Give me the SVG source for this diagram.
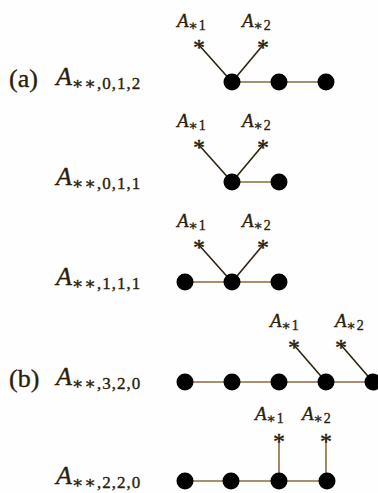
<svg xmlns="http://www.w3.org/2000/svg" width="378" height="493" viewBox="0 0 378 493">
<style>
text{font-family:"Liberation Serif","DejaVu Serif",serif;fill:#2b1d0a;stroke:#2b1d0a;stroke-width:0.35}
.big{font-size:26px}
.it{font-style:italic}
.sub{font-size:17px;letter-spacing:1px}
.lab{font-size:19px}
.lsub{font-size:14px;letter-spacing:0.5px}
.ast{font-size:24px;text-anchor:middle}
.dot{fill:#000}
.h{stroke:#8b6b3d;stroke-width:1.6;fill:none}
.d{stroke:#2e2210;stroke-width:1.6;fill:none}
</style>
<rect width="378" height="493" fill="#fefefe"/>
<g id="connectors">
<line class="h" x1="232" y1="82" x2="326" y2="82"/>
<line class="d" x1="199" y1="45" x2="232" y2="82"/>
<line class="d" x1="263" y1="45" x2="232" y2="82"/>
<line class="h" x1="232" y1="182" x2="279" y2="182"/>
<line class="d" x1="199" y1="145" x2="232" y2="182"/>
<line class="d" x1="263" y1="145" x2="232" y2="182"/>
<line class="h" x1="185" y1="282" x2="279" y2="282"/>
<line class="d" x1="199" y1="245" x2="232" y2="282"/>
<line class="d" x1="263" y1="245" x2="232" y2="282"/>
<line class="h" x1="185" y1="382" x2="378" y2="382"/>
<line class="d" x1="294" y1="345" x2="326" y2="382"/>
<line class="d" x1="341" y1="345" x2="373" y2="382"/>
<line class="h" x1="185" y1="481" x2="327" y2="481"/>
<line class="h" x1="279" y1="439" x2="279" y2="481"/>
<line class="h" x1="326" y1="439" x2="326" y2="481"/>
</g>
<g id="row1">
<text class="big" x="9" y="87">(a)</text>
<text class="big" x="56" y="85"><tspan class="it">A</tspan><tspan class="sub" dy="4">∗∗,0,1,2</tspan></text>
<g id="r1-s1"><text class="lab" x="177" y="27"><tspan class="it">A</tspan><tspan class="lsub" dy="3">∗1</tspan></text><text class="ast" x="199" y="55">*</text></g>
<g id="r1-s2"><text class="lab" x="242" y="27"><tspan class="it">A</tspan><tspan class="lsub" dy="3">∗2</tspan></text><text class="ast" x="263" y="55">*</text></g>
<circle id="r1-n1" class="dot" cx="232" cy="82" r="8.5"/>
<circle id="r1-n2" class="dot" cx="279" cy="82" r="8.5"/>
<circle id="r1-n3" class="dot" cx="326" cy="82" r="8.5"/>
</g>
<g id="row2">
<text class="big" x="56" y="185"><tspan class="it">A</tspan><tspan class="sub" dy="4">∗∗,0,1,1</tspan></text>
<g id="r2-s1"><text class="lab" x="177" y="127"><tspan class="it">A</tspan><tspan class="lsub" dy="3">∗1</tspan></text><text class="ast" x="199" y="155">*</text></g>
<g id="r2-s2"><text class="lab" x="242" y="127"><tspan class="it">A</tspan><tspan class="lsub" dy="3">∗2</tspan></text><text class="ast" x="263" y="155">*</text></g>
<circle id="r2-n1" class="dot" cx="232" cy="182" r="8.5"/>
<circle id="r2-n2" class="dot" cx="279" cy="182" r="8.5"/>
</g>
<g id="row3">
<text class="big" x="56" y="285"><tspan class="it">A</tspan><tspan class="sub" dy="4">∗∗,1,1,1</tspan></text>
<g id="r3-s1"><text class="lab" x="177" y="227"><tspan class="it">A</tspan><tspan class="lsub" dy="3">∗1</tspan></text><text class="ast" x="199" y="255">*</text></g>
<g id="r3-s2"><text class="lab" x="242" y="227"><tspan class="it">A</tspan><tspan class="lsub" dy="3">∗2</tspan></text><text class="ast" x="263" y="255">*</text></g>
<circle id="r3-n1" class="dot" cx="185" cy="282" r="8.5"/>
<circle id="r3-n2" class="dot" cx="232" cy="282" r="8.5"/>
<circle id="r3-n3" class="dot" cx="279" cy="282" r="8.5"/>
</g>
<g id="row4">
<text class="big" x="9" y="387">(b)</text>
<text class="big" x="56" y="385"><tspan class="it">A</tspan><tspan class="sub" dy="4">∗∗,3,2,0</tspan></text>
<g id="r4-s1"><text class="lab" x="270" y="327"><tspan class="it">A</tspan><tspan class="lsub" dy="3">∗1</tspan></text><text class="ast" x="294" y="355">*</text></g>
<g id="r4-s2"><text class="lab" x="335" y="327"><tspan class="it">A</tspan><tspan class="lsub" dy="3">∗2</tspan></text><text class="ast" x="341" y="355">*</text></g>
<circle id="r4-n1" class="dot" cx="185" cy="382" r="8.5"/>
<circle id="r4-n2" class="dot" cx="232" cy="382" r="8.5"/>
<circle id="r4-n3" class="dot" cx="279" cy="382" r="8.5"/>
<circle id="r4-n4" class="dot" cx="326" cy="382" r="8.5"/>
<circle id="r4-n5" class="dot" cx="373" cy="382" r="8.5"/>
</g>
<g id="row5">
<text class="big" x="56" y="484"><tspan class="it">A</tspan><tspan class="sub" dy="4">∗∗,2,2,0</tspan></text>
<g id="r5-s1"><text class="lab" x="255" y="420"><tspan class="it">A</tspan><tspan class="lsub" dy="3">∗1</tspan></text><text class="ast" x="279" y="449">*</text></g>
<g id="r5-s2"><text class="lab" x="302" y="420"><tspan class="it">A</tspan><tspan class="lsub" dy="3">∗2</tspan></text><text class="ast" x="326" y="449">*</text></g>
<circle id="r5-n1" class="dot" cx="185" cy="481" r="8.5"/>
<circle id="r5-n2" class="dot" cx="231" cy="481" r="8.5"/>
<circle id="r5-n3" class="dot" cx="279" cy="481" r="8.5"/>
<circle id="r5-n4" class="dot" cx="327" cy="481" r="8.5"/>
</g>
</svg>
